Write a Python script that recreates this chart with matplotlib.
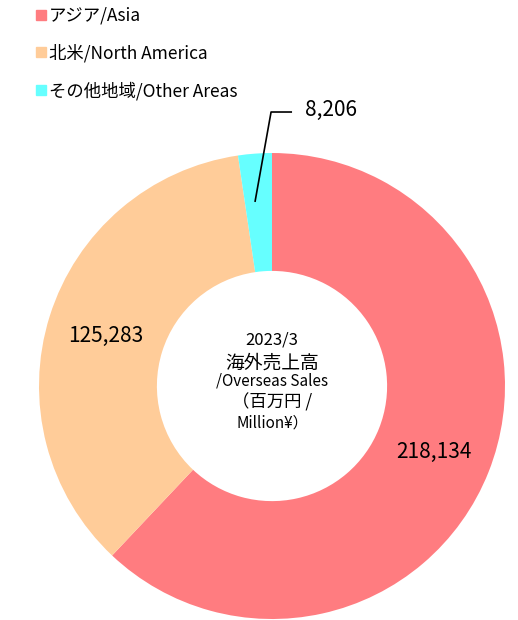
import matplotlib
matplotlib.use("Agg")
import matplotlib.pyplot as plt
from matplotlib.lines import Line2D

plt.rcParams['font.family'] = ['Noto Sans CJK JP', 'DejaVu Sans']

categories = ["アジア/Asia", "北米/North America", "その他地域/Other Areas"]
values = [218134, 125283, 8206]
value_labels = ["218,134", "125,283", "8,206"]
colors = ["#FF7C80", "#FFCC99", "#66FFFF"]
center_lines = ["2023/3", "海外売上高", "/Overseas Sales", "（百万円 /", "Million¥）"]

fig = plt.figure(figsize=(5.18, 6.2), dpi=100)
ax = fig.add_axes([0.0753, 0.0016, 0.8996, 0.7516])

wedges, _ = ax.pie(values, colors=colors, startangle=90, counterclock=False,
                   radius=1.0, wedgeprops=dict(width=0.506, linewidth=0))
ax.set_xlim(-1, 1)
ax.set_ylim(-1, 1)
ax.axis('off')

# data labels
ax.text(0.695, -0.283, value_labels[0], fontsize=15, ha='center', va='center')
ax.text(-0.715, 0.215, value_labels[1], fontsize=15, ha='center', va='center')
# leader line for the small slice
ax.plot([-0.073, -0.004, 0.086], [0.790, 1.176, 1.176], color='black', lw=1.2,
        clip_on=False, solid_capstyle='butt')
ax.text(0.142, 1.185, value_labels[2], fontsize=15, ha='left', va='center')

# center text, line by line
line_y = [0.197, 0.099, 0.021, -0.069, -0.159]
line_size = [12, 13.5, 11, 12.5, 11]
for txt, y, s in zip(center_lines, line_y, line_size):
    ax.text(0, y, txt, fontsize=s, ha='center', va='center')

handles = [Line2D([0], [0], marker='s', color='none', markerfacecolor=c,
                  markeredgecolor=c, markersize=7) for c in colors]
fig.legend(handles, categories, loc='upper left', bbox_to_anchor=(0.055, 1.0),
           frameon=False, fontsize=12.5, handlelength=0.6, handletextpad=0.2,
           labelspacing=1.1, borderaxespad=0.0)

fig.savefig("out.png", dpi=100)
